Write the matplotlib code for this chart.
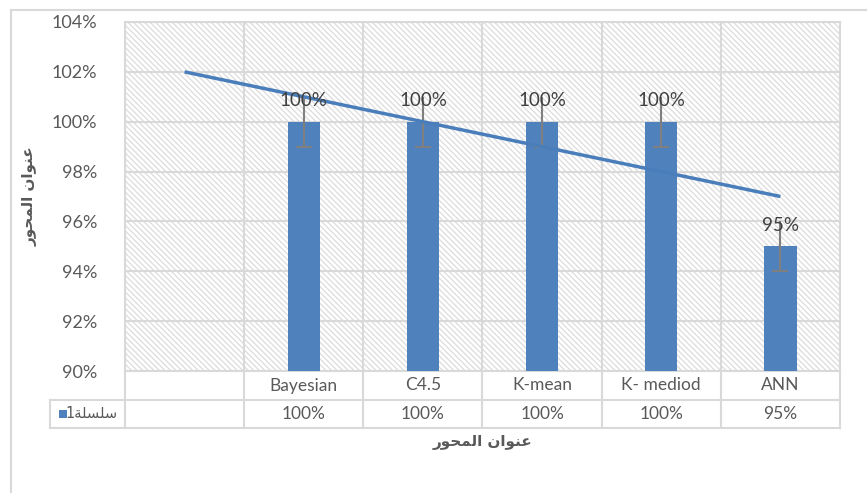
import numpy as np
import matplotlib
matplotlib.use("Agg")
from matplotlib import pyplot as plt
from matplotlib.patches import Rectangle
from matplotlib.lines import Line2D

# categories (first slot is empty in the original sheet)
categories = ["", "Bayesian", "C4.5", "K-mean", "K- mediod", "ANN"]
values = [None, 100, 100, 100, 100, 95]
errors = [None, 1, 1, 1, 1, 1]
value_labels = ["", "100%", "100%", "100%", "100%", "95%"]
yticks = [90, 92, 94, 96, 98, 100, 102, 104]

# arabic strings in presentation forms, visual order
axis_title = "\uFEAD\uFEEE\uFEA4\uFEE4\uFEDF\uFE8D \uFEE5\uFE8D\uFEEE\uFEE8\uFECB"  # عنوان المحور
series_name = "1\uFE94\uFEE0\uFEB4\uFEE0\uFEB3"  # سلسلة1

bar_color = "#4f81bd"
line_color = "#4a7ebb"
grid_color = "#d9d9d9"
text_color = "#595959"

plt.rcParams["font.family"] = ["Lato", "DejaVu Sans"]
plt.rcParams["hatch.linewidth"] = 0.9

W, H = 867, 493
fig = plt.figure(figsize=(W / 100, H / 100), dpi=100)
L, R, T, B = 125, 840, 22, 371
ax = fig.add_axes([L / W, 1 - B / H, (R - L) / W, (B - T) / H])

# hatched plot background
ax.add_patch(Rectangle((0, 0), 1, 1, transform=ax.transAxes, facecolor="white",
                       edgecolor="#dcdcdc", lw=0, hatch="\\\\\\\\\\\\", zorder=0))

x = np.arange(len(categories))
idx = [i for i, v in enumerate(values) if v is not None]
vals = np.array([values[i] for i in idx], dtype=float)
errs = np.array([errors[i] for i in idx], dtype=float)

ax.bar(idx, vals - 90, bottom=90, width=0.27, color=bar_color, zorder=3)

eb = ax.errorbar(idx, vals, yerr=errs, fmt="none", ecolor="#7f7f7f",
                 elinewidth=1.5, capsize=6, capthick=1.5, zorder=4)
eb[1][1].set_visible(False)

for i in idx:
    ax.annotate(value_labels[i], (i, values[i]), xytext=(0, 9), textcoords="offset points",
                ha="center", va="bottom", fontsize=13.5, color="#404040", zorder=5)

# linear trendline, fitted to bars and extended back one period
k, b = np.polyfit(idx, vals, 1)
tx = np.array([0, idx[-1]])
ax.plot(tx, k * tx + b, color=line_color, lw=2.5, zorder=4, solid_capstyle="butt")

ax.set_xlim(-0.5, len(categories) - 0.5)
ax.set_ylim(90, 104)
ax.set_yticks(yticks)
ax.set_yticklabels([f"{t}%" for t in yticks], fontsize=13, color=text_color)
ax.set_xticks([])
ax.set_xticks(np.arange(-0.5, len(categories)), minor=True)
ax.tick_params(axis="x", which="minor", length=0)
ax.tick_params(axis="y", length=0, pad=20)
ax.grid(axis="y", color=grid_color, lw=1.5)
ax.grid(axis="x", which="minor", color=grid_color, lw=1.5)
ax.set_axisbelow(True)
for s in ax.spines.values():
    s.set_color(grid_color)
    s.set_linewidth(1.5)

# data table below the axis
xt = ax.get_xaxis_transform()
r1 = -(400 - B) / (B - T)
r2 = -(428 - B) / (B - T)
leg_left = -(L - 50) / (R - L)
for xb in np.arange(-0.5, len(categories)):
    ax.add_line(Line2D([xb, xb], [0, r2], transform=xt, color=grid_color, lw=1.5, clip_on=False))
ax.add_line(Line2D([leg_left, 1], [r1, r1], transform=ax.transAxes, color=grid_color, lw=1.5, clip_on=False))
ax.add_line(Line2D([leg_left, 1], [r2, r2], transform=ax.transAxes, color=grid_color, lw=1.5, clip_on=False))
ax.add_line(Line2D([leg_left, leg_left], [r1, r2], transform=ax.transAxes, color=grid_color, lw=1.5, clip_on=False))

for i, c in enumerate(categories):
    ax.text(i, r1 / 2, c, transform=xt, ha="center", va="center", fontsize=12.5, color=text_color)
    ax.text(i, (r1 + r2) / 2, value_labels[i], transform=xt, ha="center", va="center",
            fontsize=12.5, color=text_color)

ax.add_patch(Rectangle((leg_left + 0.013, (r1 + r2) / 2 - 0.012), 0.011, 0.024, transform=ax.transAxes,
                       facecolor=bar_color, edgecolor="none", clip_on=False))
ax.text(-0.01, (r1 + r2) / 2, series_name, transform=ax.transAxes, ha="right", va="center",
        fontsize=10.5, color=text_color, family=["DejaVu Sans"])

# axis titles
fig.text((L + R) / 2 / W, 1 - 443 / H, axis_title, ha="center", va="center", fontsize=11,
         fontweight="bold", color=text_color, family=["DejaVu Sans"])
fig.text(30 / W, 1 - (T + B) / 2 / H, axis_title, ha="center", va="center", rotation=90,
         fontsize=11, fontweight="bold", color=text_color, family=["DejaVu Sans"])

# chart area border
fig.add_artist(Line2D([11 / W, 1], [1 - 10 / H, 1 - 10 / H], transform=fig.transFigure, color=grid_color, lw=1.5))
fig.add_artist(Line2D([11 / W, 11 / W], [0, 1 - 10 / H], transform=fig.transFigure, color=grid_color, lw=1.5))

fig.savefig("out.png", dpi=100)
